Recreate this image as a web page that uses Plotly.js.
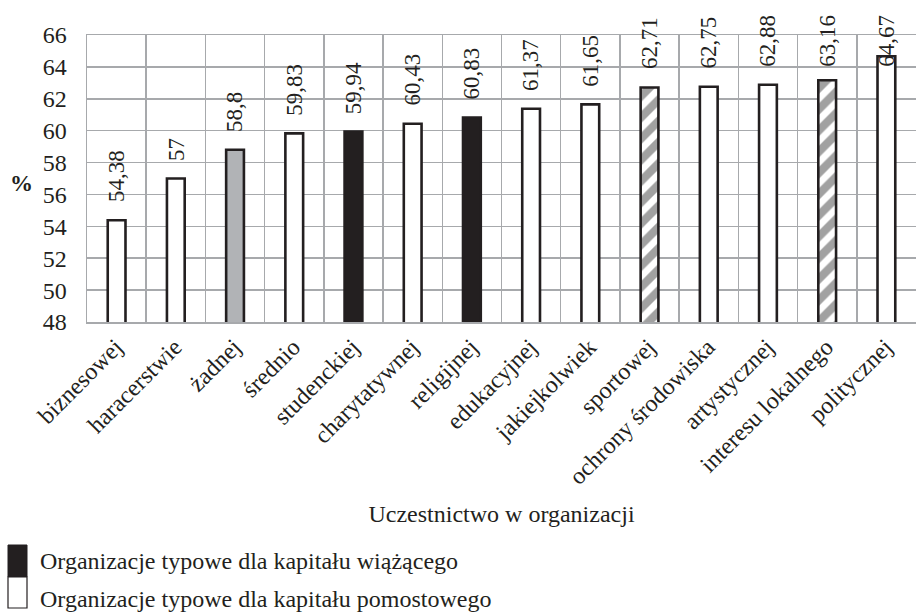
<!DOCTYPE html>
<html>
<head>
<meta charset="utf-8">
<script src="https://cdn.plot.ly/plotly-3.0.1.min.js"></script>
<style>html,body{margin:0;padding:0;background:#fff;}#chart{width:916px;height:614px;}</style>
</head>
<body>
<div id="chart"></div>
<script>
// ---- data ----
const categories = ["biznesowej","haracerstwie","żadnej","średnio","studenckiej","charytatywnej","religijnej","edukacyjnej","jakiejkolwiek","sportowej","ochrony środowiska","artystycznej","interesu lokalnego","politycznej"];
const values = [54.38, 57, 58.8, 59.83, 59.94, 60.43, 60.83, 61.37, 61.65, 62.71, 62.75, 62.88, 63.16, 64.67];
const valueLabels = ["54,38","57","58,8","59,83","59,94","60,43","60,83","61,37","61,65","62,71","62,75","62,88","63,16","64,67"];
// bar kind: B = bonding (black), P = bridging (white), N = none (grey), H = hatched
const kinds = ["P","P","N","P","B","P","B","P","P","H","P","P","H","P"];
const legendLabels = ["Organizacje typowe dla kapitału wiążącego","Organizacje typowe dla kapitału pomostowego"];
const yTicks = [48,50,52,54,56,58,60,62,64,66];
const xTitle = "Uczestnictwo w organizacji";
const yTitle = "%";

// ---- styling ----
const FONT = "Liberation Serif, Times New Roman, serif";
const INK = "#231f20";
const GRID = "#a7a9ac";
const fillFor = {B: INK, P: "#ffffff", N: "#b1b3b6", H: "#ffffff"};

const trace = {
  type: "bar",
  x: categories,
  y: values,
  width: 0.3,
  marker: {
    color: kinds.map(k => fillFor[k]),
    line: {color: INK, width: 2.6},
    pattern: {
      shape: kinds.map(k => k === "H" ? "/" : ""),
      fgcolor: INK,
      bgcolor: "#ffffff",
      size: 15,
      solidity: 0.55,
      fillmode: "overlay"
    }
  },
  hoverinfo: "x+y",
  showlegend: false
};

const labelAnnotations = categories.map((c, i) => ({
  x: c, y: Math.min(values[i] + 1.0, 63.9),
  xref: "x", yref: "y",
  text: valueLabels[i],
  textangle: -90,
  showarrow: false,
  xanchor: "center", yanchor: "bottom",
  font: {family: FONT, size: 23, color: INK}
}));

function px2paperX(p) { return (p - 87) / 829; }
function px2paperY(p) { return (322 - p) / 287; }

const otherAnnotations = [
  {xref: "paper", yref: "paper", x: px2paperX(21), y: px2paperY(183), text: "<b>" + yTitle + "</b>", showarrow: false,
   xanchor: "center", yanchor: "middle", font: {family: FONT, size: 23, color: INK}},
  {xref: "paper", yref: "paper", x: px2paperX(38), y: px2paperY(561), text: legendLabels[0], showarrow: false,
   xanchor: "left", yanchor: "middle", font: {family: FONT, size: 24, color: INK}},
  {xref: "paper", yref: "paper", x: px2paperX(38), y: px2paperY(599), text: legendLabels[1], showarrow: false,
   xanchor: "left", yanchor: "middle", font: {family: FONT, size: 24, color: INK}}
];

const shapes = [
  {type: "rect", xref: "paper", yref: "paper", x0: px2paperX(8), x1: px2paperX(27), y0: px2paperY(577), y1: px2paperY(545),
   fillcolor: INK, line: {color: INK, width: 1}},
  {type: "rect", xref: "paper", yref: "paper", x0: px2paperX(8), x1: px2paperX(27), y0: px2paperY(608), y1: px2paperY(577),
   fillcolor: "#ffffff", line: {color: INK, width: 1.2}}
];

const layout = {
  width: 916, height: 614,
  margin: {l: 87, r: 0, t: 35, b: 292, pad: 0},
  paper_bgcolor: "#ffffff",
  plot_bgcolor: "#ffffff",
  font: {family: FONT, size: 22, color: INK},
  showlegend: false,
  xaxis: {
    type: "category",
    categoryorder: "array",
    categoryarray: categories,
    tickson: "boundaries",
    showgrid: true, gridcolor: GRID, gridwidth: 1.5,
    showline: true, linecolor: GRID, linewidth: 1.5, mirror: true,
    ticks: "", tickangle: -45,
    ticklabelshift: -1,
    tickfont: {family: FONT, size: 24, color: INK},
    title: {text: xTitle, font: {family: FONT, size: 24, color: INK}, standoff: 16},
    automargin: false
  },
  yaxis: {
    range: [48, 66],
    tickvals: yTicks,
    ticktext: yTicks.map(String),
    showgrid: true, gridcolor: GRID, gridwidth: 1.5,
    showline: true, linecolor: GRID, linewidth: 1.5, mirror: true,
    zeroline: false,
    ticks: "",
    ticklabelstandoff: 14,
    tickfont: {family: FONT, size: 24, color: INK},
    automargin: false
  },
  annotations: labelAnnotations.concat(otherAnnotations),
  shapes: shapes
};

Plotly.newPlot("chart", [trace], layout, {displayModeBar: false, staticPlot: true});
</script>
</body>
</html>
